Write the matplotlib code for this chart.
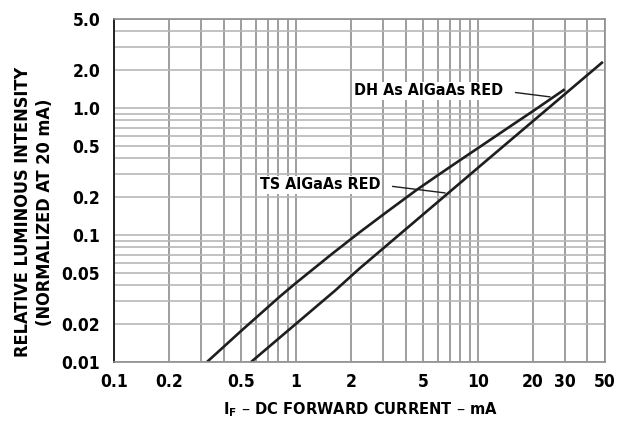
import matplotlib
matplotlib.use('Agg')
import matplotlib.pyplot as plt
from matplotlib.ticker import FixedLocator, NullFormatter, LogLocator

plt.rcParams['font.family'] = ['DejaVu Sans']
plt.rcParams['font.weight'] = 'bold'
plt.rcParams['font.stretch'] = 'condensed'

# curves (mA, relative intensity)
dh_current = [0.324, 0.5, 0.82, 1.0, 1.58, 2.22, 3.16, 4.6, 6.0, 8.0, 10.0, 15.8, 20.0, 30.0]
dh_intensity = [0.010, 0.0176, 0.033, 0.0419, 0.0711, 0.104, 0.152, 0.226, 0.294, 0.389, 0.482, 0.75, 0.94, 1.40]

ts_current = [0.566, 1.64, 2.22, 11.5, 48.6]
ts_intensity = [0.010, 0.0365, 0.054, 0.40, 2.3]

x_ticks = [0.1, 0.2, 0.5, 1, 2, 5, 10, 20, 30, 50]
x_ticklabels = ['0.1', '0.2', '0.5', '1', '2', '5', '10', '20', '30', '50']
y_ticks = [0.01, 0.02, 0.05, 0.1, 0.2, 0.5, 1.0, 2.0, 5.0]
y_ticklabels = ['0.01', '0.02', '0.05', '0.1', '0.2', '0.5', '1.0', '2.0', '5.0']

fig = plt.figure(figsize=(6.2, 4.23), dpi=100)
ax = fig.add_axes([0.184, 0.1442, 0.792, 0.8108])
ax.set_xscale('log')
ax.set_yscale('log')
ax.set_xlim(0.1, 50)
ax.set_ylim(0.01, 5.0)

# grid: every 1..9 per decade
ax.xaxis.set_minor_locator(LogLocator(base=10, subs=range(1, 10)))
ax.yaxis.set_minor_locator(LogLocator(base=10, subs=range(1, 10)))
ax.xaxis.set_minor_formatter(NullFormatter())
ax.yaxis.set_minor_formatter(NullFormatter())
ax.grid(True, which='both', axis='x', color='#8e8e8e', lw=1.2)
ax.grid(True, which='both', axis='y', color='#b8b8b8', lw=1.2)
ax.set_axisbelow(True)

ax.xaxis.set_major_locator(FixedLocator(x_ticks))
ax.set_xticklabels(x_ticklabels)
ax.yaxis.set_major_locator(FixedLocator(y_ticks))
ax.set_yticklabels(y_ticklabels)
ax.tick_params(which='both', length=0, labelsize=12.5, pad=8)
ax.tick_params(axis='y', pad=10)

for s in ['top', 'right', 'bottom']:
    ax.spines[s].set_color('#8e8e8e')
    ax.spines[s].set_linewidth(1.2)
ax.spines['left'].set_color('#222222')
ax.spines['left'].set_linewidth(1.4)

ax.plot(dh_current, dh_intensity, color='#1e1e1e', lw=1.9, solid_capstyle='butt')
ax.plot(ts_current, ts_intensity, color='#1e1e1e', lw=1.9, solid_capstyle='butt')

# labels with leader lines from the right end of the text
ax.annotate('DH As AlGaAs RED', xy=(24.9, 1.22), xytext=(0.8113, 0.785),
            textcoords='figure fraction', ha='right', va='center', fontsize=11.5,
            bbox=dict(fc='white', ec='none', pad=1),
            arrowprops=dict(arrowstyle='-', color='#1e1e1e', lw=1.0, relpos=(1, 0.5),
                            shrinkA=8, shrinkB=0))
ax.annotate('TS AlGaAs RED', xy=(6.6, 0.214), xytext=(0.613, 0.563),
            textcoords='figure fraction', ha='right', va='center', fontsize=11.5,
            bbox=dict(fc='white', ec='none', pad=1),
            arrowprops=dict(arrowstyle='-', color='#1e1e1e', lw=1.0, relpos=(1, 0.5),
                            shrinkA=8, shrinkB=0))

fig.text(0.582, 0.031, 'I$_\\mathregular{F}$ – DC FORWARD CURRENT – mA', ha='center', va='center',
         fontsize=11.8)
fig.text(0.037, 0.499, 'RELATIVE LUMINOUS INTENSITY', rotation=90, ha='center', va='center',
         fontsize=13)
fig.text(0.073, 0.499, '(NORMALIZED AT 20 mA)', rotation=90, ha='center', va='center',
         fontsize=13)

fig.savefig('out.png', dpi=100)
